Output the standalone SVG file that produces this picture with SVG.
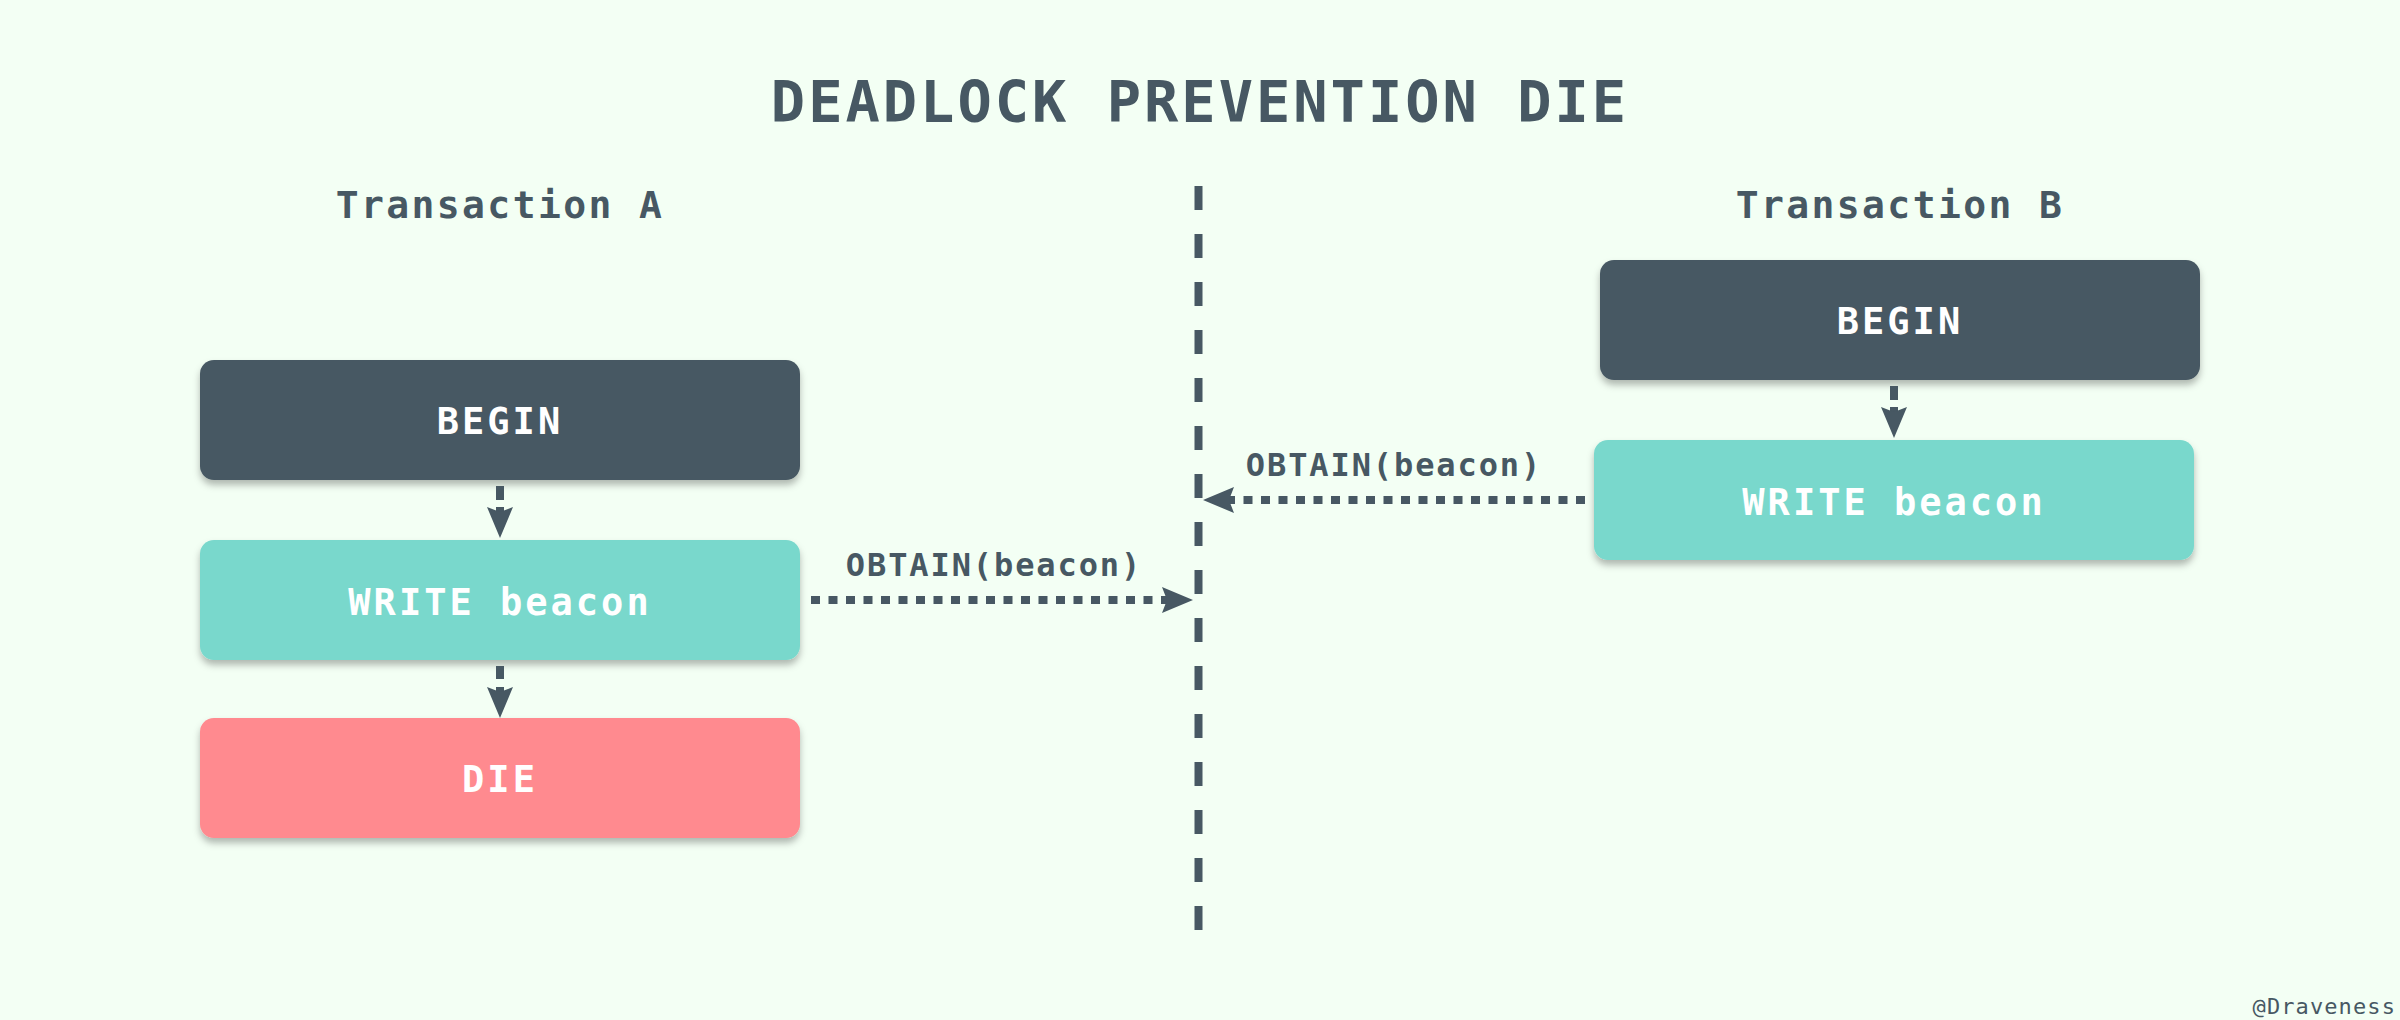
<svg xmlns="http://www.w3.org/2000/svg" width="2400" height="1020" viewBox="0 0 2400 1020">
  <defs>
    <filter id="shadow" x="-10%" y="-20%" width="120%" height="150%">
      <feDropShadow dx="0" dy="5" stdDeviation="3.5" flood-color="#000000" flood-opacity="0.28"/>
    </filter>
    <marker id="arrow" markerUnits="userSpaceOnUse" markerWidth="32" markerHeight="26" refX="5" refY="13" orient="auto" viewBox="0 0 32 26">
      <path d="M0,0 L31,13 L0,26 L5,13 Z" fill="#475863"/>
    </marker>
    <style>
      .mono { font-family: "DejaVu Sans Mono", "Liberation Mono", monospace; }
      .title { font-size: 57px; font-weight: bold; fill: #475863; letter-spacing: 3px; }
      .header { font-size: 38px; font-weight: bold; fill: #475863; letter-spacing: 2.4px; }
      .label { font-size: 32px; font-weight: bold; fill: #475863; letter-spacing: 1.9px; }
      .boxtext { font-size: 37px; font-weight: bold; fill: #ffffff; letter-spacing: 3px; }
      .credit { font-size: 22px; fill: #475863; letter-spacing: 1.1px; }
      .dark { fill: #475863; }
      .teal { fill: #79D8CC; }
      .pink { fill: #FF8A8F; }
      .conn { stroke: #475863; stroke-width: 8; fill: none; }
    </style>
  </defs>

  <rect x="0" y="0" width="2400" height="1020" fill="#F3FFF4"/>

  <text class="mono title" x="1200" y="122" text-anchor="middle">DEADLOCK PREVENTION DIE</text>
  <text class="mono header" x="500" y="218" text-anchor="middle">Transaction A</text>
  <text class="mono header" x="1900" y="218" text-anchor="middle">Transaction B</text>

  <g id="a-begin">
    <rect class="dark" x="200" y="360" width="600" height="120" rx="14" filter="url(#shadow)"/>
    <text class="mono boxtext" x="500" y="434" text-anchor="middle">BEGIN</text>
  </g>
  <g id="a-write">
    <rect class="teal" x="200" y="540" width="600" height="120" rx="14" filter="url(#shadow)"/>
    <text class="mono boxtext" x="500" y="615" text-anchor="middle">WRITE beacon</text>
  </g>
  <g id="a-die">
    <rect class="pink" x="200" y="718" width="600" height="120" rx="14" filter="url(#shadow)"/>
    <text class="mono boxtext" x="500" y="792" text-anchor="middle">DIE</text>
  </g>
  <g id="b-begin">
    <rect class="dark" x="1600" y="260" width="600" height="120" rx="14" filter="url(#shadow)"/>
    <text class="mono boxtext" x="1900" y="334" text-anchor="middle">BEGIN</text>
  </g>
  <g id="b-write">
    <rect class="teal" x="1594" y="440" width="600" height="120" rx="14" filter="url(#shadow)"/>
    <text class="mono boxtext" x="1894" y="515" text-anchor="middle">WRITE beacon</text>
  </g>

  <g id="connectors">
    <line class="conn" x1="1198.5" y1="186" x2="1198.5" y2="930" stroke-dasharray="24 24"/>
    <line class="conn" x1="500" y1="486" x2="500" y2="512" stroke-dasharray="14 7" marker-end="url(#arrow)"/>
    <line class="conn" x1="500" y1="666" x2="500" y2="692" stroke-dasharray="13 8" marker-end="url(#arrow)"/>
    <line class="conn" x1="1894" y1="386" x2="1894" y2="412" stroke-dasharray="14 7" marker-end="url(#arrow)"/>
    <line class="conn" x1="811" y1="600" x2="1167" y2="600" stroke-dasharray="9 8.5" marker-end="url(#arrow)"/>
    <line class="conn" x1="1585" y1="500" x2="1229" y2="500" stroke-dasharray="9 8.5" marker-end="url(#arrow)"/>
    <text class="mono label" x="994" y="576" text-anchor="middle">OBTAIN(beacon)</text>
    <text class="mono label" x="1394" y="476" text-anchor="middle">OBTAIN(beacon)</text>
  </g>

  <text class="mono credit" x="2396" y="1014" text-anchor="end">@Draveness</text>
</svg>
